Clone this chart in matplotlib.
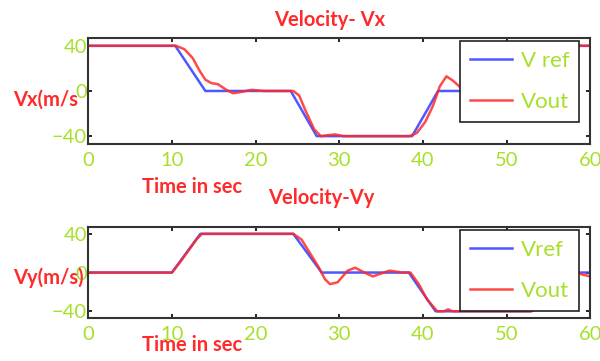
import numpy as np
import matplotlib.pyplot as plt

# Vx reference / output
tx_ref = [0, 10.4, 14.0, 24.2, 27.3, 38.7, 41.8, 52.8, 56.0, 60]
vx_ref = [40, 40, 0, 0, -40, -40, 0, 0, 40, 40]
tx_out = [0, 10.5, 11.5, 12.5, 13.3, 14.0, 14.7, 15.5, 16.5, 17.3, 18.2, 19.5, 21, 24.5,
          25.2, 26, 27, 27.8, 28.8, 29.5, 30.5, 38.4, 39.3, 40.3, 41.2, 42.0, 42.8, 43.6,
          44.5, 45.3, 46.2, 47.5, 49, 52.8, 53.8, 55, 56, 57, 58, 59, 60]
vx_out = [40, 40, 37, 29, 18, 10, 7, 6, 1, -2, -1, 1, 0, 0,
          -4, -18, -34, -40, -39, -38.5, -40, -40, -37, -27, -13, 4, 13, 9,
          3, -2, -5, -3, 0, 0, 5, 22, 37, 43, 41, 40, 40]

# Vy reference / output
ty_ref = [0, 10, 13.4, 24.5, 27.9, 38.3, 41.5, 52.8, 56, 60]
vy_ref = [0, 0, 40, 40, 0, 0, -40, -40, 0, 0]
ty_out = [0, 10, 11, 12, 13, 13.6, 14.5, 24.5, 25.5, 26.5, 27.5, 28.3, 28.9, 29.8, 31,
          31.9, 33, 34, 35, 36, 37.5, 38.5, 39.5, 40.5, 41.7, 42.5, 43, 43.5, 45, 53,
          54, 55, 56, 57, 58, 59, 60]
vy_out = [0, 0, 11, 23, 35, 40, 40, 40, 34, 20, 6, -7, -12, -10, 2,
          5, 0, -4, -1, 2, 0, 0, -12, -28, -40, -40, -38, -40, -40, -40,
          -35, -20, -5, 4, 2, -2, -4]

xticks = [0, 10, 20, 30, 40, 50, 60]
yticks = [-40, 0, 40]

green = '#a6e02a'
red = '#ff2a2a'
blue = '#3a46ff'
plt.rcParams['font.family'] = ['Lato', 'DejaVu Sans']

fig = plt.figure(figsize=(6, 3.61), dpi=100)
ax1 = fig.add_axes([0.147, 0.601, 0.837, 0.294])
ax2 = fig.add_axes([0.147, 0.119, 0.837, 0.252])

panels = [
    (ax1, tx_ref, vx_ref, tx_out, vx_out, ['V ref', 'Vout']),
    (ax2, ty_ref, vy_ref, ty_out, vy_out, ['Vref', 'Vout']),
]
for ax, tr, vr, to, vo, labels in panels:
    ax.plot(tr, vr, color=blue, lw=1.8, alpha=0.9, label=labels[0])
    ax.plot(to, vo, color=red, lw=1.8, alpha=0.85, label=labels[1])
    ax.set_xlim(0, 60)
    ax.set_ylim(-47, 47)
    ax.set_xticks(xticks)
    ax.set_yticks(yticks)
    ax.tick_params(direction='in', top=True, right=True, length=3, width=1.2,
                   labelsize=14.5, labelcolor=green)
    ax.tick_params(axis='y', pad=1)
    ax.tick_params(axis='x', pad=6)
    for s in ax.spines.values():
        s.set_linewidth(1.5)
        s.set_color('#333333')
    leg = ax.legend(loc='upper right', bbox_to_anchor=(0.978, 0.97), borderaxespad=0,
                    fontsize=16, handlelength=1.9, labelspacing=0.95, fancybox=False,
                    framealpha=1, edgecolor='#222222', borderpad=0.45, handletextpad=0.4)
    leg.get_frame().set_linewidth(1.2)
    for t in leg.get_texts():
        t.set_color(green)

tkw = dict(color=red, fontsize=14.5, fontweight='bold')
fig.text(0.55, 0.945, 'Velocity- Vx', ha='center', va='center', **tkw)
fig.text(0.535, 0.452, 'Velocity-Vy', ha='center', va='center', **tkw)
fig.text(0.022, 0.723, 'Vx(m/s', ha='left', va='center', **tkw)
fig.text(0.022, 0.232, 'Vy(m/s)', ha='left', va='center', **tkw)
fig.text(0.32, 0.482, 'Time in sec', ha='center', va='center', **tkw)
fig.text(0.32, 0.043, 'Time in sec', ha='center', va='center', **tkw)

fig.savefig('out.png', dpi=100)
